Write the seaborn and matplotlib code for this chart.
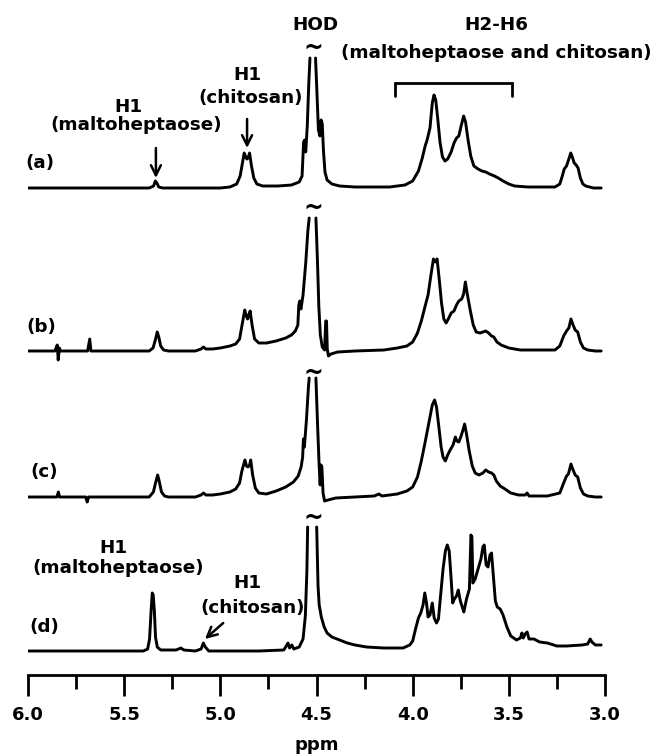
import numpy as np
import pandas as pd
import matplotlib
matplotlib.use("Agg")
import matplotlib.pyplot as plt
from matplotlib.ticker import MultipleLocator
import seaborn as sns

# 1H NMR traces as (ppm, intensity) vertices. Each trace is split at the
# HOD signal, which is cut off at the top of the plotted range.
spec_a_left = [(6.02, 0), (5.60, 0), (5.37, 0), (5.347, 2), (5.338, 7), (5.33, 5), (5.32, 1), (5.30, 0),
               (5.00, 0), (4.95, 1), (4.915, 4), (4.897, 12), (4.886, 24), (4.876, 35), (4.866, 30),
               (4.861, 29), (4.856, 30), (4.848, 35), (4.838, 22), (4.826, 10), (4.81, 4), (4.78, 2),
               (4.70, 2), (4.63, 3), (4.59, 6), (4.575, 12), (4.567, 46), (4.562, 48), (4.556, 36),
               (4.548, 62), (4.540, 105), (4.534, 130)]
spec_a_right = [(4.505, 130), (4.497, 92), (4.49, 58), (4.482, 52), (4.476, 68), (4.47, 64), (4.464, 38),
                (4.456, 16), (4.445, 8), (4.42, 4), (4.38, 2), (4.30, 1), (4.12, 1), (4.04, 3), (4.00, 7),
                (3.97, 17), (3.95, 30), (3.935, 42), (3.925, 48), (3.91, 60), (3.898, 85), (3.889, 93),
                (3.88, 88), (3.87, 70), (3.858, 46), (3.845, 31), (3.832, 27), (3.818, 29), (3.80, 36),
                (3.785, 45), (3.772, 50), (3.76, 52), (3.748, 62), (3.735, 72), (3.725, 66), (3.712, 48),
                (3.698, 32), (3.682, 22), (3.66, 19), (3.64, 17), (3.62, 16), (3.60, 14), (3.575, 12),
                (3.555, 10), (3.53, 7), (3.50, 4), (3.47, 2), (3.40, 1), (3.26, 1), (3.235, 4),
                (3.222, 12), (3.212, 19), (3.20, 22), (3.188, 29), (3.178, 35), (3.17, 31), (3.16, 25),
                (3.15, 23), (3.14, 20), (3.128, 10), (3.115, 4), (3.10, 2), (3.06, 0), (3.02, 0)]

spec_b_left = [(6.02, 0), (5.86, 0), (5.848, 6), (5.843, -9), (5.837, 3), (5.83, 0), (5.69, 0),
               (5.679, 12), (5.673, 0), (5.37, 0), (5.35, 3), (5.338, 11), (5.328, 19), (5.32, 14),
               (5.31, 5), (5.295, 1), (5.27, 0), (5.13, 0), (5.10, 2), (5.088, 4), (5.075, 2), (5.04, 2),
               (5.00, 3), (4.95, 5), (4.92, 7), (4.90, 12), (4.888, 25), (4.873, 41), (4.865, 35),
               (4.858, 32), (4.852, 36), (4.845, 40), (4.835, 26), (4.822, 12), (4.80, 8), (4.76, 8),
               (4.71, 10), (4.66, 13), (4.63, 16), (4.61, 20), (4.597, 26), (4.592, 46), (4.587, 50),
               (4.581, 42), (4.57, 56), (4.556, 88), (4.545, 120), (4.538, 133)]
spec_b_right = [(4.503, 133), (4.495, 90), (4.488, 45), (4.48, 16), (4.47, 4), (4.458, 1), (4.452, 30),
                (4.448, 30), (4.444, 2), (4.438, -5), (4.425, -3), (4.39, -1), (4.30, 0), (4.15, 1),
                (4.08, 3), (4.03, 5), (4.00, 9), (3.975, 18), (3.955, 30), (3.935, 45), (3.92, 56),
                (3.905, 76), (3.892, 92), (3.882, 89), (3.873, 92), (3.862, 72), (3.85, 48), (3.838, 32),
                (3.826, 28), (3.812, 33), (3.80, 38), (3.785, 40), (3.772, 46), (3.76, 50), (3.745, 52),
                (3.735, 57), (3.726, 69), (3.716, 57), (3.70, 40), (3.685, 26), (3.67, 19), (3.65, 18),
                (3.635, 19), (3.62, 20), (3.605, 18), (3.59, 15), (3.578, 14), (3.562, 9), (3.54, 6),
                (3.50, 3), (3.44, 1), (3.26, 1), (3.235, 5), (3.215, 15), (3.20, 20), (3.188, 23),
                (3.177, 32), (3.168, 27), (3.155, 21), (3.142, 19), (3.128, 9), (3.112, 3), (3.09, 1),
                (3.05, 0), (3.02, 0)]

spec_c_left = [(6.02, 0), (5.85, 0), (5.842, 5), (5.836, 0), (5.70, 0), (5.692, -5), (5.685, 0),
               (5.37, 0), (5.348, 5), (5.337, 14), (5.326, 22), (5.318, 16), (5.306, 5), (5.29, 1),
               (5.27, 0), (5.13, 0), (5.10, 2), (5.088, 4), (5.075, 2), (5.04, 2), (5.00, 3), (4.95, 5),
               (4.92, 8), (4.90, 14), (4.888, 26), (4.872, 37), (4.864, 31), (4.856, 30), (4.848, 32),
               (4.842, 37), (4.832, 22), (4.818, 9), (4.80, 4), (4.76, 3), (4.71, 6), (4.66, 10),
               (4.62, 15), (4.595, 21), (4.58, 30), (4.572, 40), (4.568, 58), (4.563, 50), (4.552, 78),
               (4.542, 110), (4.538, 119)]
spec_c_right = [(4.503, 119), (4.494, 70), (4.487, 35), (4.481, 12), (4.477, 32), (4.472, 30), (4.466, 4),
                (4.458, -4), (4.44, -3), (4.40, -1), (4.30, 0), (4.20, 1), (4.175, 3), (4.16, 1),
                (4.08, 3), (4.03, 6), (4.00, 10), (3.975, 20), (3.955, 36), (3.935, 55), (3.915, 75),
                (3.898, 92), (3.886, 97), (3.876, 90), (3.865, 72), (3.852, 50), (3.842, 40), (3.83, 36),
                (3.818, 42), (3.805, 47), (3.79, 52), (3.778, 60), (3.77, 56), (3.76, 55), (3.75, 60),
                (3.74, 66), (3.73, 73), (3.72, 63), (3.706, 46), (3.69, 31), (3.675, 24), (3.655, 22),
                (3.635, 24), (3.62, 27), (3.605, 25), (3.59, 24), (3.578, 22), (3.565, 16), (3.545, 11),
                (3.52, 8), (3.49, 4), (3.45, 2), (3.415, 2), (3.405, 4), (3.395, 1), (3.30, 1),
                (3.235, 4), (3.215, 14), (3.20, 21), (3.19, 23), (3.177, 33), (3.168, 28), (3.155, 22),
                (3.142, 20), (3.128, 9), (3.112, 3), (3.09, 1), (3.05, 0), (3.02, 0)]

spec_d_left = [(6.02, 0), (5.60, 0), (5.40, 0), (5.378, 2), (5.368, 12), (5.36, 40), (5.354, 58),
               (5.349, 56), (5.343, 40), (5.337, 14), (5.328, 4), (5.31, 1), (5.23, 1), (5.205, 3),
               (5.19, 1), (5.13, 0), (5.10, 2), (5.088, 8), (5.078, 4), (5.06, 0), (4.80, 0), (4.67, 1),
               (4.648, 8), (4.64, 3), (4.628, 6), (4.618, 2), (4.59, 4), (4.57, 12), (4.558, 35),
               (4.55, 80), (4.546, 124)]
spec_d_right = [(4.499, 124), (4.492, 65), (4.486, 46), (4.475, 34), (4.46, 24), (4.445, 18), (4.42, 14),
                (4.38, 11), (4.34, 8), (4.30, 6), (4.24, 4), (4.15, 3), (4.05, 3), (4.015, 6), (4.00, 10),
                (3.985, 22), (3.97, 33), (3.958, 38), (3.946, 46), (3.937, 58), (3.928, 48), (3.92, 34),
                (3.91, 36), (3.898, 48), (3.888, 33), (3.876, 28), (3.866, 32), (3.855, 55), (3.842, 82),
                (3.83, 100), (3.82, 106), (3.81, 100), (3.80, 72), (3.792, 48), (3.783, 52), (3.772, 55),
                (3.763, 61), (3.752, 50), (3.742, 44), (3.734, 39), (3.72, 52), (3.705, 62), (3.697, 116),
                (3.692, 114), (3.687, 68), (3.675, 72), (3.66, 82), (3.645, 92), (3.635, 104),
                (3.628, 106), (3.618, 86), (3.608, 84), (3.598, 96), (3.59, 98), (3.58, 74), (3.57, 50),
                (3.56, 44), (3.545, 42), (3.53, 36), (3.51, 24), (3.49, 15), (3.46, 11), (3.44, 13),
                (3.432, 18), (3.425, 13), (3.415, 17), (3.405, 19), (3.395, 12), (3.37, 12), (3.34, 9),
                (3.30, 8), (3.25, 5), (3.20, 5), (3.12, 6), (3.09, 7), (3.077, 12), (3.068, 9), (3.05, 6),
                (3.02, 6)]

trace_labels = ["(a)", "(b)", "(c)", "(d)"]
trace_segments = [
    (spec_a_left, spec_a_right),
    (spec_b_left, spec_b_right),
    (spec_c_left, spec_c_right),
    (spec_d_left, spec_d_right),
]
x_ticks_major = [6.0, 5.5, 5.0, 4.5, 4.0, 3.5, 3.0]

# vertical stacking of the traces and where each cut-off mark goes
baselines = [487, 324, 178, 24]
tilde_y = [627, 467, 302, 157]
label_xy = [(5.94, 512), (5.93, 348), (5.915, 203), (5.915, 48)]

sns.set_theme(style="ticks")
plt.rcParams["font.family"] = ["DejaVu Sans"]
plt.rcParams["font.weight"] = "bold"

rows = []
for name, base, segs in zip(trace_labels, baselines, trace_segments):
    for k, seg in enumerate(segs):
        for ppm, inten in seg:
            rows.append({"ppm": ppm, "signal": inten + base, "piece": f"{name}{k}"})
df = pd.DataFrame(rows)

fig = plt.figure(figsize=(6.57, 7.54), dpi=100)
ax = fig.add_axes([28 / 657, 1 - 675 / 754, 577 / 657, 675 / 754])

sns.lineplot(data=df, x="ppm", y="signal", units="piece", estimator=None, sort=False,
             color="black", linewidth=2.1, legend=False, ax=ax)

ax.set_xlim(6.0, 3.0)
ax.set_ylim(0, 675)
ax.set_yticks([])
ax.set_ylabel("")
ax.xaxis.set_major_locator(MultipleLocator(0.5))
ax.xaxis.set_minor_locator(MultipleLocator(0.25))
ax.set_xticks(x_ticks_major)
ax.set_xticklabels([f"{v:.1f}" for v in x_ticks_major])
for side in ["left", "right", "top"]:
    ax.spines[side].set_visible(False)
ax.spines["bottom"].set_linewidth(2.0)
ax.spines["bottom"].set_color("black")
ax.tick_params(axis="x", which="major", direction="out", length=15, width=2.0,
               color="black", pad=7, labelsize=13, labelcolor="black")
ax.tick_params(axis="x", which="minor", direction="out", length=10, width=2.0,
               color="black", bottom=True)
ax.set_xlabel("ppm", fontsize=13, fontweight="bold", labelpad=9, color="black")

tk = dict(fontsize=13.2, fontweight="bold", ha="center", va="center", color="black")

# trace letters
for name, (lx, ly) in zip(trace_labels, label_xy):
    ax.text(lx, ly, name, **tk)

# cut-off marks above the HOD signal
for ty in tilde_y:
    ax.text(4.518, ty, "~", fontsize=17, fontweight="bold", ha="center", va="center", color="black")

# peak assignments, trace (a)
ax.text(4.508, 650, "HOD", **tk)
ax.text(3.566, 650, "H2-H6", **tk)
ax.text(3.566, 622, "(maltoheptaose and chitosan)", **tk)
ax.plot([4.09, 4.09, 3.485, 3.485], [579, 592, 592, 579], color="black", lw=2.0,
        solid_joinstyle="miter")
ax.text(4.861, 600, "H1", **tk)
ax.text(4.84, 577, "(chitosan)", **tk)
ax.text(5.48, 568, "H1", **tk)
ax.text(5.435, 550, "(maltoheptaose)", **tk)

arrow = dict(arrowstyle="->,head_length=0.6,head_width=0.3", lw=1.8, color="black",
             shrinkA=0, shrinkB=0)
ax.annotate("", xy=(4.861, 527), xytext=(4.861, 556), arrowprops=arrow)
ax.annotate("", xy=(5.335, 497), xytext=(5.335, 527), arrowprops=arrow)

# peak assignments, trace (d)
ax.text(5.557, 127, "H1", **tk)
ax.text(5.529, 107, "(maltoheptaose)", **tk)
ax.text(4.861, 92, "H1", **tk)
ax.text(4.83, 67, "(chitosan)", **tk)
ax.annotate("", xy=(5.08, 36), xytext=(4.985, 52), arrowprops=arrow)

fig.savefig("out.png", dpi=100)
